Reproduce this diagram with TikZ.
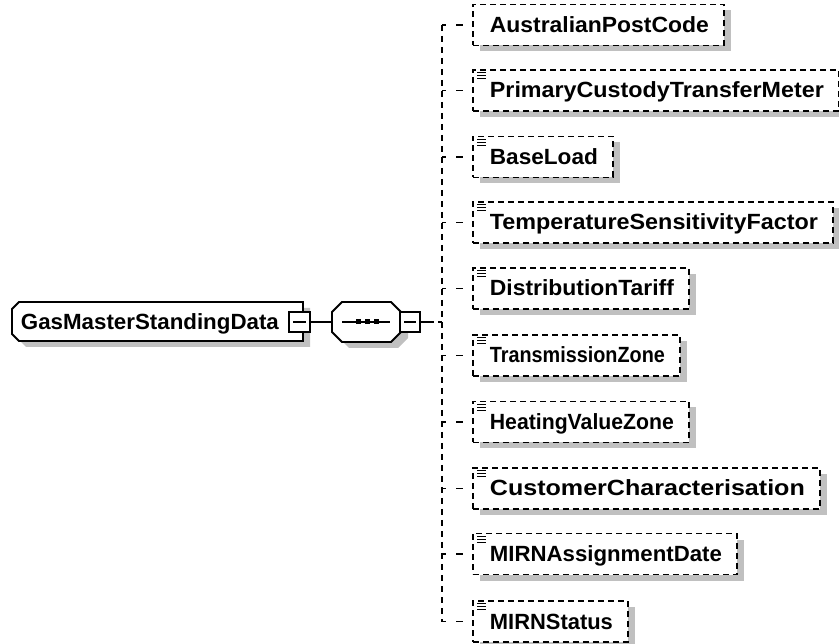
\documentclass[tikz,border=0pt]{standalone}
\usepackage{fontspec}
\setmainfont{Liberation Sans}
\usepackage{graphicx}
\usetikzlibrary{calc}
\definecolor{shg}{RGB}{192,192,192}
\newcommand{\fitw}[2]{\resizebox{#1pt}{\height}{#2}}
\begin{document}
\begin{tikzpicture}[x=1pt,y=-1pt,line width=1.8pt,
  elembox/.style={draw, dash pattern=on 6pt off 4pt, fill=white, minimum height=41pt,
    inner sep=0pt, anchor=west,
    preaction={fill=shg, transform canvas={shift={(7pt,-6pt)}}}},
  elemtext/.style={inner sep=0pt, anchor=base west, font=\fontsize{22}{24}\selectfont\bfseries},
  minusbox/.style={draw, fill=white, minimum width=20pt, minimum height=20pt, inner sep=0pt,
    path picture={\draw[line width=1.8pt] ([xshift=4pt]path picture bounding box.west) -- ([xshift=-4pt]path picture bounding box.east);}},
  stemline/.style={dash pattern=on 6pt off 5pt},
  stubline/.style={dash pattern=on 4pt off 10pt on 7pt off 20pt},
  icon/.style={line width=1.1pt}
]
\fill[white] (0,0) rectangle (839,644);
\useasboundingbox (0,0) rectangle (839,644);

% main element
\fill[shg,shift={(7,6)}] (19,302) -- (303,302) -- (303,341) -- (19,341) -- (12,334) -- (12,309) -- cycle;
\draw[fill=white] (19,302) -- (303,302) -- (303,341) -- (19,341) -- (12,334) -- (12,309) -- cycle;
\node[inner sep=0pt, minimum width=291pt, minimum height=39pt] (gm) at (157.5,321.5) {};
\node[elemtext] (gmt) at (20,329.5) {\fitw{258}{GasMasterStandingData}};
\node[minusbox, minimum width=21pt] (m1) at (299.5,322) {};

% sequence compositor
\fill[shg,shift={(7,6)}] (342,302) -- (391,302) -- (401,312) -- (401,332) -- (391,342) -- (342,342) -- (332,332) -- (332,312) -- cycle;
\draw[fill=white] (342,302) -- (391,302) -- (401,312) -- (401,332) -- (391,342) -- (342,342) -- (332,332) -- (332,312) -- cycle;
\node[inner sep=0pt, minimum width=69pt, minimum height=40pt] (seq) at (366.5,322) {};
\draw (342,322) -- (390,322);
\fill (355.5,319.5) rectangle (360.5,324.5);
\fill (364.5,319.5) rectangle (369.5,324.5);
\fill (373.5,319.5) rectangle (378.5,324.5);
\node[minusbox] (m2) at (410,322) {};

\draw (m1.east) -- (seq.west);
\coordinate (j) at (442,322);
\draw[dash pattern=on 13pt off 4pt] (m2.east) -- (j);

% children
\foreach \i/\c/\r/\txt in {
  1/25/723/AustralianPostCode,
  2/90.5/838/PrimaryCustodyTransferMeter,
  3/157/612/BaseLoad,
  4/222.5/832/TemperatureSensitivityFactor,
  5/288.5/688/DistributionTariff,
  6/355.5/679/TransmissionZone,
  7/422/688/HeatingValueZone,
  8/488.5/819/CustomerCharacterisation,
  9/554/736/MIRNAssignmentDate,
  10/621.5/627/MIRNStatus}{
  \pgfmathsetmacro\bw{\r-472}
  \pgfmathsetmacro\tw{\r-504}
  \node[elembox, minimum width=\bw pt] (b\i) at (472,\c) {};
  \node[elemtext] (t\i) at ($(b\i.west)+(17,7.5)$) {\fitw{\tw}{\txt}};
  \coordinate (s\i) at (442,\c);
  \draw[stubline] (s\i) -- (b\i.west);
}
\foreach \i in {2,...,10}{
  \draw[icon] ($(b\i.north west)+(5,3.5)$) -- +(9,0);
  \draw[icon] ($(b\i.north west)+(5,6.5)$) -- +(9,0);
  \draw[icon] ($(b\i.north west)+(5,9.5)$) -- +(9,0);
}
\draw[stemline] (s1) -- (s10);
\end{tikzpicture}
\end{document}
